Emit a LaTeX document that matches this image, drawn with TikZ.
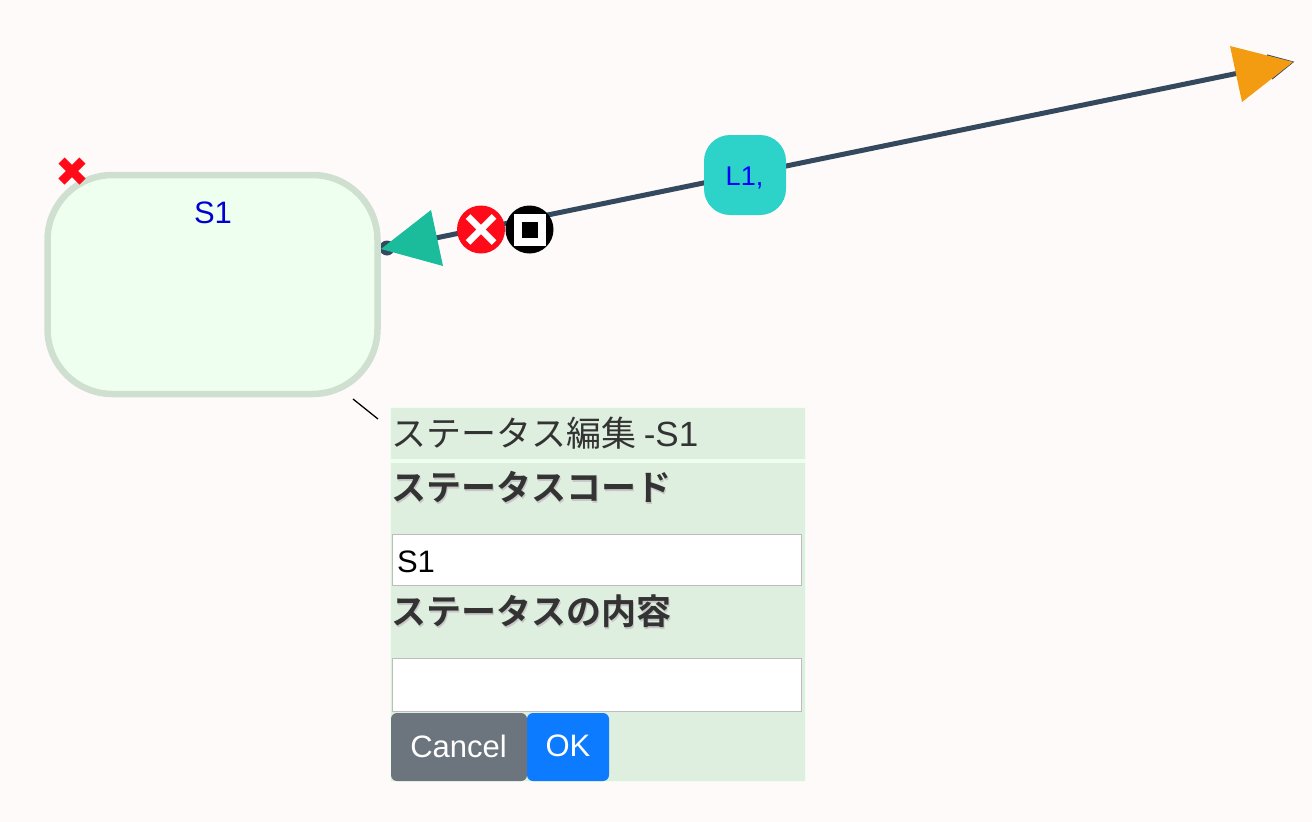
\documentclass[tikz,border=0pt]{standalone}
\usepackage{fontspec}
\usetikzlibrary{calc}
\setmainfont{Liberation Sans}
\newfontfamily\jp{Noto Sans CJK JP}
\newfontfamily\jpb[BoldFont={Noto Sans CJK JP Bold}]{Noto Sans CJK JP}
\definecolor{bgc}{HTML}{FFFAFA}
\definecolor{statefill}{HTML}{EFFFEF}
\definecolor{stateline}{HTML}{D0E0D0}
\definecolor{linkc}{HTML}{34495E}
\definecolor{tealc}{HTML}{2DD2C8}
\definecolor{greenc}{HTML}{1ABC9C}
\definecolor{orangec}{HTML}{F39C12}
\definecolor{redc}{HTML}{FF0A18}
\definecolor{panelc}{HTML}{DFEFDF}
\definecolor{inputb}{HTML}{BDBDBD}
\definecolor{grayb}{HTML}{6C757D}
\definecolor{blueb}{HTML}{0D7BFF}
\definecolor{textc}{HTML}{333333}
\tikzset{
  box/.style={draw=none,inner sep=0pt,outer sep=0pt,anchor=north west},
  statebox/.style={box,fill=statefill,draw=stateline,line width=6.5pt,rounded corners=65pt,minimum width=330pt,minimum height=219pt},
  labelbox/.style={box,fill=tealc,rounded corners=26pt,minimum width=82pt,minimum height=80pt},
  panelrow/.style={box,fill=panelc,minimum width=414pt},
  inputbox/.style={box,fill=white,draw=inputb,line width=1pt,minimum width=409pt},
  btnbox/.style={box,rounded corners=6pt,minimum height=68pt},
  plain/.style={inner sep=0pt,outer sep=0pt},
  btntxt/.style={plain,text=white,font=\fontsize{31}{31}\selectfont},
  txt/.style={plain,anchor=west},
  bluetxt/.style={plain,font=\fontsize{31}{31}\selectfont},
  labeltxt/.style={plain,font=\fontsize{27}{27}\selectfont},
  cross/.style={line width=#1,line cap=butt},
  boldjp/.style={txt,text=textc,font=\jpb\bfseries\fontsize{35}{35}\selectfont},
  shadowjp/.style={boldjp,text=black!22}
}
\begin{document}
\begin{tikzpicture}[x=1pt,y=-1pt]
\fill[bgc] (0,0) rectangle (1312,822);
\useasboundingbox (0,0) rectangle (1312,822);
% connector
\coordinate (tailend) at (387,248);
\coordinate (headend) at (1293,62);
\coordinate (tipa) at (1267,55);
\coordinate (tipb) at (1272,79);
\draw[linkc,line width=1.2pt] (tipa) -- (headend) -- (tipb);
\draw[linkc,line width=5pt] (tailend) -- (1268,67);
\fill[linkc] (tailend) circle (7.5);
% state
\node[statebox] (s1) at (47.5,175) {};
\node[bluetxt,text={rgb,255:red,0;green,0;blue,210}] (s1t) at (213,213) {S1};
% state delete cross
\coordinate (sx) at (72,171);
\draw[redc,cross=8.5pt] ($(sx)+(-10.5,-10.5)$) -- ($(sx)+(10.5,10.5)$);
\draw[redc,cross=8.5pt] ($(sx)+(-10.5,10.5)$) -- ($(sx)+(10.5,-10.5)$);
% arrowheads
\fill[greenc] (431,210) -- (381,249) -- (443,266) -- cycle;
\fill[orangec] (1230,46) -- (1293,62) -- (1242,102) -- cycle;
% link buttons
\node[circle,fill=redc,minimum size=48pt,plain] (del) at (481,229.5) {};
\draw[white,cross=6.5pt] ($(del)+(-13,-13)$) -- ($(del)+(13,13)$);
\draw[white,cross=6.5pt] ($(del)+(-13,13)$) -- ($(del)+(13,-13)$);
\node[circle,fill=black,minimum size=48pt,plain] (stp) at (529.5,229.5) {};
\fill[white] (514,214) rectangle (546,245.5);
\fill[black] (522,222) rectangle (538,238);
% link label
\node[labelbox] (l1) at (704,135) {};
\node[labeltxt,text={rgb,255:red,0;green,0;blue,255}] at (744.5,178) {L1,};
% pointer
\coordinate (pa) at (353,399);
\coordinate (pb) at (378,419);
\draw[black,line width=1.3pt] (pa) -- (pb);
% panel
\fill[statefill] (390,407) rectangle (806,782);
\node[panelrow,minimum height=51pt] (r1) at (391,408) {};
\node[panelrow,minimum height=318pt] (r2) at (391,463) {};
\node[txt,text=textc,font=\jp\fontsize{35}{35}\selectfont] at (391,433.5) {ステータス編集 {\fontspec{Liberation Sans}\fontsize{35}{35}\selectfont -S1}};
\node[shadowjp] at (392.5,489) {ステータスコード};
\node[boldjp] at (391,487.5) {ステータスコード};
\node[inputbox,minimum height=51pt] (i1) at (392.5,534.5) {};
\node[txt,font=\fontsize{31}{31}\selectfont] at (397,561.5) {S1};
\node[shadowjp] at (392.5,613) {ステータスの内容};
\node[boldjp] at (391,611.5) {ステータスの内容};
\node[inputbox,minimum height=53pt] (i2) at (392.5,658.5) {};
\node[btnbox,fill=grayb,minimum width=136pt] (cancel) at (391,713) {};
\node[btntxt] at (458.5,746) {Cancel};
\node[btnbox,fill=blueb,minimum width=82pt] (ok) at (527,713) {};
\node[btntxt] at (568,746) {OK};
\end{tikzpicture}
\end{document}
